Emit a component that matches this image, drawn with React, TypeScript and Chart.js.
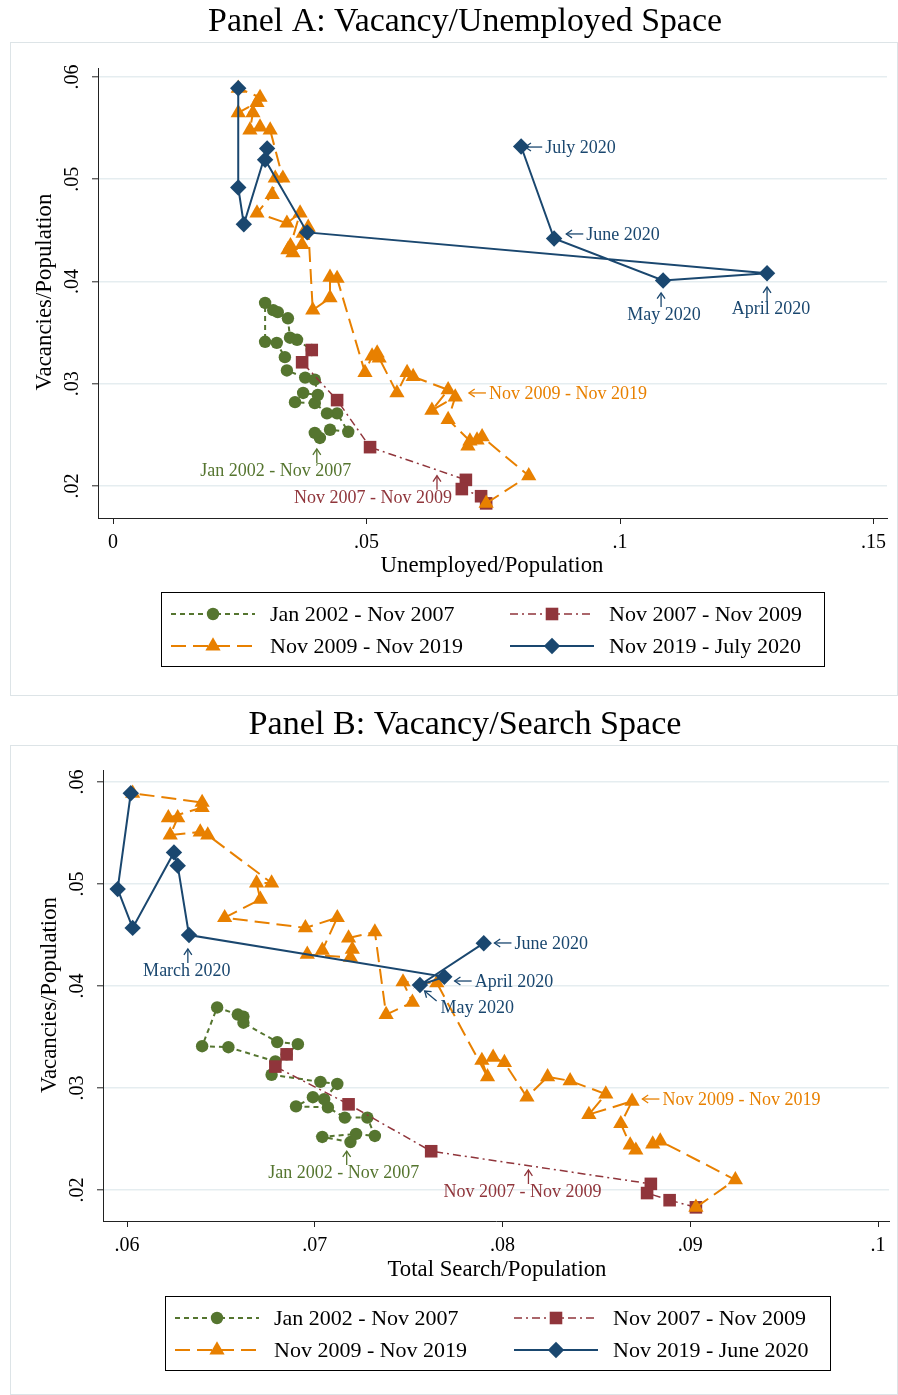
import React, { useEffect, useRef } from 'react';
import { Chart, registerables } from 'chart.js';

Chart.register(...registerables);

const FONT = '"Liberation Serif", "Times New Roman", Times, serif';

// ---------------- data ----------------
const legendLabelsA = ['Jan 2002 - Nov 2007', 'Nov 2007 - Nov 2009', 'Nov 2009 - Nov 2019', 'Nov 2019 - July 2020'];
const legendLabelsB = ['Jan 2002 - Nov 2007', 'Nov 2007 - Nov 2009', 'Nov 2009 - Nov 2019', 'Nov 2019 - June 2020'];

const yTicks = [0.02, 0.03, 0.04, 0.05, 0.06];
const xTicksA = [0, 0.05, 0.1, 0.15];
const xTicksB = [0.06, 0.07, 0.08, 0.09, 0.1];

// Jan 2002 - Nov 2007
const greenVac = [0.0247, 0.0252, 0.0255, 0.0253, 0.0271, 0.0271, 0.0281, 0.0282, 0.0291, 0.0289, 0.0304, 0.0306, 0.0313, 0.0326, 0.0340, 0.0341, 0.0379, 0.0372, 0.0370, 0.0364, 0.0345, 0.0343, 0.0333];
const greenUnemp = [0.0408, 0.0398, 0.0428, 0.0464, 0.0442, 0.0422, 0.0398, 0.0359, 0.0375, 0.0404, 0.0398, 0.0379, 0.0343, 0.0339, 0.0323, 0.0300, 0.0300, 0.0316, 0.0325, 0.0345, 0.0349, 0.0363, 0.0392];
const greenSearch = [0.0719, 0.0704, 0.0722, 0.0732, 0.0728, 0.0716, 0.0707, 0.0690, 0.0699, 0.0705, 0.0712, 0.0703, 0.0677, 0.0679, 0.0654, 0.0640, 0.0648, 0.0659, 0.0662, 0.0662, 0.0680, 0.0691, 0.0685];

// Nov 2007 - Nov 2009
const redVac = [0.0333, 0.0321, 0.0284, 0.0238, 0.0206, 0.0197, 0.0190, 0.0183];
const redUnemp = [0.0392, 0.0373, 0.0442, 0.0507, 0.0696, 0.0688, 0.0726, 0.0736];
const redSearch = [0.0685, 0.0679, 0.0718, 0.0762, 0.0879, 0.0877, 0.0889, 0.0903];

// Nov 2009 - Nov 2019
const orangeVac = [0.0183, 0.0210, 0.0248, 0.0245, 0.0239, 0.0244, 0.0265, 0.0287, 0.0274, 0.0294, 0.0307, 0.0311, 0.0291, 0.0325, 0.0330, 0.0327, 0.0311, 0.0403, 0.0404, 0.0384, 0.0372, 0.0453, 0.0447, 0.0436, 0.0428, 0.0431, 0.0435, 0.0467, 0.0457, 0.0467, 0.0485, 0.0501, 0.0501, 0.0548, 0.0551, 0.0548, 0.0565, 0.0565, 0.0575, 0.0580, 0.0589];
const orangeUnemp = [0.0736, 0.0820, 0.0728, 0.0718, 0.0700, 0.0704, 0.0661, 0.0675, 0.0629, 0.0661, 0.0592, 0.0580, 0.0560, 0.0525, 0.0521, 0.0511, 0.0497, 0.0442, 0.0428, 0.0428, 0.0394, 0.0385, 0.0375, 0.0373, 0.0355, 0.0345, 0.0350, 0.0369, 0.0343, 0.0284, 0.0314, 0.0320, 0.0335, 0.0310, 0.0290, 0.0270, 0.0276, 0.0247, 0.0284, 0.0290, 0.0247];
const orangeSearch = [0.0903, 0.0924, 0.0884, 0.0880, 0.0871, 0.0868, 0.0863, 0.0869, 0.0846, 0.0855, 0.0836, 0.0824, 0.0813, 0.0801, 0.0795, 0.0789, 0.0792, 0.0765, 0.0747, 0.0752, 0.0738, 0.0732, 0.0718, 0.0720, 0.0719, 0.0696, 0.0704, 0.0712, 0.0695, 0.0652, 0.0671, 0.0669, 0.0677, 0.0643, 0.0639, 0.0623, 0.0627, 0.0622, 0.0640, 0.0640, 0.0603];

// Nov 2019 - July 2020 (Panel A) / Nov 2019 - June 2020 (Panel B)
const blueVacA = [0.0589, 0.0492, 0.0456, 0.0530, 0.0519, 0.0448, 0.0408, 0.0401, 0.0442, 0.0532];
const blueUnemp = [0.0247, 0.0247, 0.0258, 0.0304, 0.0300, 0.0383, 0.1290, 0.1085, 0.0870, 0.0805];
const blueVacB = [0.0589, 0.0495, 0.0457, 0.0531, 0.0518, 0.0450, 0.0409, 0.0401, 0.0442];
const blueSearch = [0.0602, 0.0595, 0.0603, 0.0625, 0.0627, 0.0633, 0.0769, 0.0756, 0.0790];

type Ann = { text: string; s: number; x: number; y: number; dir: 'left' | 'up' | 'upleft'; dx?: number };

const annotationsA: Ann[] = [
  { text: 'July 2020', s: 3, x: 0.0813, y: 0.05315, dir: 'left' },
  { text: 'June 2020', s: 3, x: 0.0894, y: 0.04465, dir: 'left' },
  { text: 'May 2020', s: 3, x: 0.1081, y: 0.03888, dir: 'up', dx: 3 },
  { text: 'April 2020', s: 3, x: 0.1290, y: 0.03946, dir: 'up', dx: 4 },
  { text: 'Nov 2009 - Nov 2019', s: 2, x: 0.0702, y: 0.0291, dir: 'left' },
  { text: 'Jan 2002 - Nov 2007', s: 0, x: 0.0402, y: 0.02362, dir: 'up', dx: -41 },
  { text: 'Nov 2007 - Nov 2009', s: 1, x: 0.0639, y: 0.0210, dir: 'up', dx: -64 },
];

const annotationsB: Ann[] = [
  { text: 'June 2020', s: 3, x: 0.07957, y: 0.04422, dir: 'left' },
  { text: 'April 2020', s: 3, x: 0.07745, y: 0.04049, dir: 'left' },
  { text: 'May 2020', s: 3, x: 0.07585, y: 0.03951, dir: 'upleft' },
  { text: 'March 2020', s: 3, x: 0.06324, y: 0.04363, dir: 'up', dx: -1 },
  { text: 'Nov 2009 - Nov 2019', s: 2, x: 0.08745, y: 0.02892, dir: 'left' },
  { text: 'Jan 2002 - Nov 2007', s: 0, x: 0.0717, y: 0.02382, dir: 'up', dx: -3 },
  { text: 'Nov 2007 - Nov 2009', s: 1, x: 0.08138, y: 0.02196, dir: 'up', dx: -6 },
];

// ---------------- styles ----------------
const COLORS = ['#55752f', '#90353b', '#e88000', '#1a476f'];
const STYLES = [
  { pointStyle: 'circle', radius: 6.2, dash: [5, 4], width: 2 },
  { pointStyle: 'rect', radius: 8.9, dash: [8, 4, 2, 4], width: 1.5 },
  { pointStyle: 'triangle', radius: 8.8, dash: [15, 7], width: 2 },
  { pointStyle: 'rectRot', radius: 8.2, dash: [] as number[], width: 2 },
];

const panelA = {
  key: 'A', width: 898, height: 700, top: 0,
  plot: { left: 98, right: 887, top: 68, bottom: 518 },
  xMin: -0.00296, xMax: 0.15266, yMin: 0.01687, yMax: 0.06088,
  xTicks: xTicksA,
  title: 'Panel A: Vacancy/Unemployed Space', titleX: 465, titleY: 22, titleW: 514,
  xTitle: 'Unemployed/Population', xTitleX: 492, xTitleY: 566, xTitleW: 223,
  yTitle: 'Vacancies/Population', yTitleX: 45, yTitleY: 292, yTitleW: 197,
  frame: [10, 42, 887, 653],
  legendBox: { x: 161, y: 592, w: 663, h: 74 },
  labels: legendLabelsA,
  annotations: annotationsA,
  series: [
    { x: greenUnemp, y: greenVac },
    { x: redUnemp, y: redVac },
    { x: orangeUnemp, y: orangeVac },
    { x: blueUnemp, y: blueVacA },
  ],
};

const panelB = {
  key: 'B', width: 898, height: 695, top: 700,
  plot: { left: 103, right: 890, top: 70, bottom: 521 },
  xMin: 0.05872, xMax: 0.10059, yMin: 0.01696, yMax: 0.06118,
  xTicks: xTicksB,
  title: 'Panel B: Vacancy/Search Space', titleX: 465, titleY: 25, titleW: 433,
  xTitle: 'Total Search/Population', xTitleX: 497, xTitleY: 570, xTitleW: 219,
  yTitle: 'Vacancies/Population', yTitleX: 50, yTitleY: 295, yTitleW: 196,
  frame: [10, 45, 887, 649],
  legendBox: { x: 165, y: 596, w: 665, h: 74 },
  labels: legendLabelsB,
  annotations: annotationsB,
  series: [
    { x: greenSearch, y: greenVac },
    { x: redSearch, y: redVac },
    { x: orangeSearch, y: orangeVac },
    { x: blueSearch, y: blueVacB },
  ],
};

// ---------------- helpers ----------------
function fmtTick(v: number): string {
  if (Math.abs(v) < 1e-12) return '0';
  return String(Number(v.toFixed(4))).replace(/^0\./, '.');
}

function fitFontSize(ctx: CanvasRenderingContext2D, text: string, targetW: number): number {
  ctx.font = `100px ${FONT}`;
  const w = ctx.measureText(text).width;
  return (100 * targetW) / w;
}

function drawMarker(ctx: CanvasRenderingContext2D, style: string, x: number, y: number, r: number) {
  ctx.beginPath();
  if (style === 'circle') {
    ctx.arc(x, y, r, 0, Math.PI * 2);
  } else if (style === 'rect') {
    const s = Math.SQRT1_2 * r;
    ctx.rect(x - s, y - s, 2 * s, 2 * s);
  } else if (style === 'triangle') {
    ctx.moveTo(x, y - r);
    ctx.lineTo(x + 0.866 * r, y + 0.5 * r);
    ctx.lineTo(x - 0.866 * r, y + 0.5 * r);
    ctx.closePath();
  } else {
    ctx.moveTo(x - r, y);
    ctx.lineTo(x, y - r);
    ctx.lineTo(x + r, y);
    ctx.lineTo(x, y + r);
    ctx.closePath();
  }
  ctx.fill();
}

function arrow(ctx: CanvasRenderingContext2D, x1: number, y1: number, x2: number, y2: number) {
  ctx.lineWidth = 1.3;
  ctx.setLineDash([]);
  ctx.beginPath();
  ctx.moveTo(x1, y1);
  ctx.lineTo(x2, y2);
  ctx.stroke();
  const a = Math.atan2(y2 - y1, x2 - x1);
  const L = 7;
  const sp = 0.6;
  ctx.beginPath();
  ctx.moveTo(x2 - L * Math.cos(a - sp), y2 - L * Math.sin(a - sp));
  ctx.lineTo(x2, y2);
  ctx.lineTo(x2 - L * Math.cos(a + sp), y2 - L * Math.sin(a + sp));
  ctx.stroke();
}

function makeOverlay(cfg: any) {
  return {
    id: 'overlay' + cfg.key,
    beforeDraw(chart: any) {
      const ctx: CanvasRenderingContext2D = chart.ctx;
      ctx.save();
      ctx.fillStyle = '#ffffff';
      ctx.fillRect(0, 0, chart.width, chart.height);
      const [fx, fy, fw, fh] = cfg.frame;
      ctx.strokeStyle = '#dde4e7';
      ctx.lineWidth = 1;
      ctx.strokeRect(fx + 0.5, fy + 0.5, fw, fh);
      ctx.restore();
    },
    afterDraw(chart: any) {
      const ctx: CanvasRenderingContext2D = chart.ctx;
      const xs = chart.scales.x;
      const ys = chart.scales.y;
      const left = chart.chartArea.left;
      ctx.save();
      ctx.fillStyle = '#000';
      ctx.textAlign = 'center';
      ctx.textBaseline = 'middle';

      // title
      let fs = fitFontSize(ctx, cfg.title, cfg.titleW);
      ctx.font = `${fs}px ${FONT}`;
      ctx.fillText(cfg.title, cfg.titleX, cfg.titleY);

      // axis titles
      fs = fitFontSize(ctx, cfg.xTitle, cfg.xTitleW);
      ctx.font = `${fs}px ${FONT}`;
      ctx.fillText(cfg.xTitle, cfg.xTitleX, cfg.xTitleY);

      fs = fitFontSize(ctx, cfg.yTitle, cfg.yTitleW);
      ctx.save();
      ctx.font = `${fs}px ${FONT}`;
      ctx.translate(cfg.yTitleX, cfg.yTitleY);
      ctx.rotate(-Math.PI / 2);
      ctx.fillText(cfg.yTitle, 0, 0);
      ctx.restore();

      // rotated y tick labels
      ctx.font = `20px ${FONT}`;
      for (const v of yTicks) {
        const py = ys.getPixelForValue(v);
        ctx.save();
        ctx.translate(left - 25, py);
        ctx.rotate(-Math.PI / 2);
        ctx.fillText(fmtTick(v), 0, 0);
        ctx.restore();
      }

      // annotations
      ctx.font = `18px ${FONT}`;
      for (const a of cfg.annotations as Ann[]) {
        const X = xs.getPixelForValue(a.x);
        const Y = ys.getPixelForValue(a.y);
        const c = COLORS[a.s];
        ctx.fillStyle = c;
        ctx.strokeStyle = c;
        ctx.textBaseline = 'middle';
        if (a.dir === 'left') {
          arrow(ctx, X + 17, Y, X, Y);
          ctx.textAlign = 'left';
          ctx.fillText(a.text, X + 20, Y + 1);
        } else if (a.dir === 'up') {
          arrow(ctx, X, Y + 14, X, Y);
          ctx.textAlign = 'center';
          ctx.fillText(a.text, X + (a.dx || 0), Y + 22);
        } else {
          arrow(ctx, X + 12, Y + 10, X, Y);
          ctx.textAlign = 'left';
          ctx.fillText(a.text, X + 16, Y + 17);
        }
      }

      // legend
      const L = cfg.legendBox;
      ctx.setLineDash([]);
      ctx.strokeStyle = '#000';
      ctx.lineWidth = 1;
      ctx.strokeRect(L.x + 0.5, L.y + 0.5, L.w, L.h);
      ctx.font = `22px ${FONT}`;
      ctx.textAlign = 'left';
      ctx.textBaseline = 'middle';
      for (let i = 0; i < 4; i++) {
        const col = i % 2;
        const row = Math.floor(i / 2);
        const bx = L.x + col * 339;
        const y = L.y + 22 + row * 32;
        const st = STYLES[i];
        ctx.strokeStyle = COLORS[i];
        ctx.fillStyle = COLORS[i];
        ctx.lineWidth = st.width;
        ctx.setLineDash(st.dash);
        ctx.beginPath();
        ctx.moveTo(bx + 10, y);
        ctx.lineTo(bx + 94, y);
        ctx.stroke();
        ctx.setLineDash([]);
        drawMarker(ctx, st.pointStyle, bx + 52, y, st.radius);
        ctx.fillStyle = '#000';
        ctx.fillText(cfg.labels[i], bx + 109, y + 1);
      }
      ctx.restore();
    },
  };
}

function PanelChart({ cfg }: { cfg: any }) {
  const ref = useRef<HTMLCanvasElement | null>(null);
  useEffect(() => {
    const canvas = ref.current;
    if (!canvas) return;
    const datasets = cfg.series.map((s: any, i: number) => ({
      label: cfg.labels[i],
      data: s.x.map((x: number, j: number) => ({ x, y: s.y[j] })),
      showLine: true,
      borderColor: COLORS[i],
      backgroundColor: COLORS[i],
      borderWidth: STYLES[i].width,
      borderDash: STYLES[i].dash,
      pointStyle: STYLES[i].pointStyle,
      pointRadius: STYLES[i].radius,
      pointHoverRadius: STYLES[i].radius,
      pointBackgroundColor: COLORS[i],
      pointBorderWidth: 0,
      tension: 0,
      order: 4 - i,
    }));
    const p = cfg.plot;
    const chart = new Chart(canvas, {
      type: 'scatter',
      data: { datasets },
      options: {
        responsive: false,
        animation: false,
        events: [],
        layout: { padding: { left: 0, top: p.top, right: cfg.width - p.right, bottom: 0 } },
        plugins: {
          legend: { display: false },
          title: { display: false },
          tooltip: { enabled: false },
        },
        scales: {
          x: {
            type: 'linear',
            min: cfg.xMin,
            max: cfg.xMax,
            afterBuildTicks: (s: any) => {
              s.ticks = cfg.xTicks.map((v: number) => ({ value: v }));
            },
            afterFit: (s: any) => {
              s.height = cfg.height - p.bottom;
            },
            grid: { drawOnChartArea: false, drawTicks: true, tickLength: 6, tickColor: '#222', tickWidth: 1 },
            border: { display: true, color: '#222', width: 1 },
            ticks: {
              color: '#000',
              font: { family: FONT, size: 20 },
              padding: 7,
              autoSkip: false,
              maxRotation: 0,
              minRotation: 0,
              callback: (v: any) => fmtTick(Number(v)),
            },
          },
          y: {
            type: 'linear',
            min: cfg.yMin,
            max: cfg.yMax,
            afterBuildTicks: (s: any) => {
              s.ticks = yTicks.map((v: number) => ({ value: v }));
            },
            afterFit: (s: any) => {
              s.width = p.left;
            },
            grid: { color: '#e5edf0', lineWidth: 1.6, drawTicks: true, tickLength: 6, tickColor: '#222', tickWidth: 1 },
            border: { display: true, color: '#222', width: 1 },
            ticks: { display: false },
          },
        },
      } as any,
      plugins: [makeOverlay(cfg)],
    });
    return () => chart.destroy();
  }, []);
  return (
    <canvas
      ref={ref}
      width={cfg.width}
      height={cfg.height}
      style={{ position: 'absolute', left: 0, top: cfg.top, width: cfg.width, height: cfg.height }}
    />
  );
}

export default function App() {
  return (
    <div style={{ position: 'absolute', left: 0, top: 0, width: 898, height: 1395, background: '#fff', overflow: 'hidden' }}>
      <PanelChart cfg={panelA} />
      <PanelChart cfg={panelB} />
    </div>
  );
}
